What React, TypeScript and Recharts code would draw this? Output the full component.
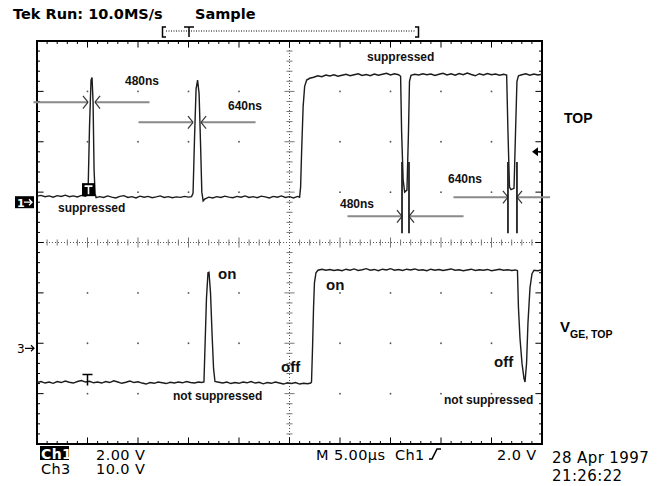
import React from 'react';
import { ComposedChart, Line, XAxis, YAxis, ReferenceLine, ReferenceDot, ReferenceArea } from 'recharts';

// scope settings as shown on screen
const timePerDiv = 5; // µs
const hDivs = 10;
const vDivs = 8;
const ch1VoltsPerDiv = 2;
const ch3VoltsPerDiv = 10;
const ch1GroundDiv = 0.8;
const ch3GroundDiv = -2.1;
const triggerLevel = 2.0; // V on Ch1
const triggerTime = 5; // µs

// Ch1 (TOP logic signal), [time µs, volts]
const ch1Trace: [number, number][] = [
  [0.0, 0.24], [0.4, 0.27], [0.8, 0.22], [1.2, 0.25], [1.6, 0.2], [2.0, 0.26], [2.4, 0.23], [2.8, 0.28],
  [3.2, 0.22], [3.6, 0.25], [4.0, 0.21], [4.4, 0.27], [4.8, 0.24],
  [5.05, 0.3], [5.2, 3.0], [5.35, 4.85], [5.45, 4.95], [5.55, 4.0], [5.65, 1.3], [5.75, 0.35], [5.85, 0.18],
  [6.2, 0.22], [6.6, 0.19], [7.0, 0.25], [7.4, 0.2], [7.8, 0.17], [8.2, 0.23], [8.6, 0.26], [9.0, 0.19],
  [9.4, 0.22], [9.8, 0.17], [10.2, 0.24], [10.6, 0.2], [11.0, 0.23], [11.4, 0.18], [11.8, 0.21], [12.2, 0.25],
  [12.6, 0.19], [13.0, 0.22], [13.4, 0.18], [13.8, 0.21], [14.2, 0.19], [14.6, 0.23], [15.0, 0.2], [15.3, 0.22],
  [15.45, 0.35], [15.6, 2.6], [15.75, 4.5], [15.9, 4.85], [16.05, 4.3], [16.2, 2.2], [16.32, 0.4], [16.45, 0.05], [16.6, 0.12],
  [17.0, 0.2], [17.4, 0.17], [17.8, 0.22], [18.2, 0.19], [18.6, 0.24], [19.0, 0.2], [19.4, 0.18], [19.8, 0.23],
  [20.2, 0.2], [20.6, 0.25], [21.0, 0.19], [21.4, 0.22], [21.8, 0.18], [22.2, 0.24], [22.6, 0.21], [23.0, 0.17],
  [23.4, 0.23], [23.8, 0.2], [24.2, 0.25], [24.6, 0.19], [25.0, 0.22], [25.4, 0.17], [25.8, 0.23],
  [26.0, 0.2], [26.1, 0.6], [26.2, 2.0], [26.35, 3.8], [26.5, 4.6], [26.7, 4.85], [27.0, 4.92], [27.4, 4.96],
  [27.8, 5.02], [28.2, 4.98], [28.6, 5.05], [29.0, 5.01], [29.4, 5.06], [29.8, 5.0], [30.2, 5.04], [30.6, 5.08],
  [31.0, 5.02], [31.4, 5.06], [31.8, 5.1], [32.2, 5.03], [32.6, 5.07], [33.0, 5.02], [33.4, 5.09], [33.8, 5.04],
  [34.2, 5.08], [34.6, 5.12], [35.0, 5.05], [35.4, 5.1], [35.8, 5.06],
  [36.0, 5.0], [36.1, 2.8], [36.25, 0.9], [36.4, 0.4], [36.63, 0.48], [36.78, 2.8], [36.88, 4.8], [37.03, 5.04],
  [37.4, 5.08], [37.8, 5.05], [38.2, 5.1], [38.6, 5.06], [39.0, 5.09], [39.4, 5.03], [39.8, 5.08], [40.2, 5.12],
  [40.6, 5.05], [41.0, 5.1], [41.4, 5.04], [41.8, 5.11], [42.2, 5.06], [42.6, 5.13], [43.0, 5.07], [43.4, 5.02],
  [43.8, 5.1], [44.2, 5.05], [44.6, 5.11], [45.0, 5.06], [45.4, 5.09], [45.8, 5.04], [46.2, 5.08],
  [46.5, 5.05], [46.63, 2.8], [46.78, 0.6], [46.93, 0.5], [47.23, 0.55], [47.38, 2.8], [47.52, 4.8], [47.67, 5.02],
  [48.0, 5.06], [48.4, 5.1], [48.8, 5.04], [49.2, 5.09], [49.6, 5.05], [50.0, 5.08],
];

// Ch3 (V_GE, TOP gate voltage), [time µs, volts]
const ch3Trace: [number, number][] = [
  [0.0, -6.8], [0.4, -6.6], [0.8, -6.9], [1.2, -6.7], [1.6, -6.95], [2.0, -6.6], [2.4, -6.8], [2.8, -6.5],
  [3.2, -6.75], [3.6, -6.9], [4.0, -6.6], [4.4, -6.4], [4.8, -6.7], [5.2, -6.55], [5.6, -6.85], [6.0, -6.7],
  [6.4, -6.9], [6.8, -6.6], [7.2, -6.8], [7.6, -6.45], [8.0, -6.7], [8.4, -6.95], [8.8, -6.75], [9.2, -6.5],
  [9.6, -6.8], [10.0, -6.65], [10.4, -6.9], [10.8, -7.1], [11.2, -6.8], [11.6, -6.95], [12.0, -6.7], [12.4, -6.85],
  [12.8, -7.0], [13.2, -6.75], [13.6, -6.9], [14.0, -6.7], [14.4, -6.85], [14.8, -6.6], [15.2, -6.8], [15.6, -6.9],
  [16.0, -6.7], [16.3, -6.8],
  [16.53, -6.7], [16.63, 0], [16.78, 10], [16.93, 15.0], [17.03, 15.1], [17.18, 11], [17.33, 3], [17.48, -4], [17.62, -6.6],
  [18.0, -6.75], [18.4, -6.9], [18.8, -6.7], [19.2, -7.0], [19.6, -6.8], [20.0, -6.95], [20.4, -6.7], [20.8, -6.85],
  [21.2, -6.6], [21.6, -6.9], [22.0, -6.75], [22.4, -7.05], [22.8, -6.8], [23.2, -6.95], [23.6, -6.7], [24.0, -6.9],
  [24.4, -7.1], [24.8, -6.85], [25.2, -7.0], [25.6, -6.8], [26.0, -7.1], [26.4, -6.95], [26.8, -7.05], [27.1, -6.9],
  [27.18, -6.7], [27.28, 0], [27.38, 8], [27.47, 13], [27.62, 15.0], [27.82, 15.5], [28.22, 15.7],
  [28.6, 15.5], [29.0, 15.65], [29.4, 15.45], [29.8, 15.6], [30.2, 15.4], [30.6, 15.7], [31.0, 15.5], [31.4, 15.75],
  [31.8, 15.45], [32.2, 15.6], [32.6, 15.8], [33.0, 15.5], [33.4, 15.65], [33.8, 15.4], [34.2, 15.7], [34.6, 15.55],
  [35.0, 15.8], [35.4, 15.5], [35.8, 15.65], [36.2, 15.45], [36.6, 15.7], [37.0, 15.55], [37.4, 15.75], [37.8, 15.5],
  [38.2, 15.6], [38.6, 15.4], [39.0, 15.7], [39.4, 15.5], [39.8, 15.65], [40.2, 15.45], [40.6, 15.6], [41.0, 15.75],
  [41.4, 15.5], [41.8, 15.6], [42.2, 15.4], [42.6, 15.55], [43.0, 15.7], [43.4, 15.45], [43.8, 15.6], [44.2, 15.5],
  [44.6, 15.65], [45.0, 15.4], [45.4, 15.55], [45.8, 15.7], [46.2, 15.5], [46.6, 15.6], [47.0, 15.45], [47.4, 15.55],
  [47.57, 15.4], [47.67, 8], [47.82, 2], [48.02, -3], [48.22, -6.0], [48.32, -6.7], [48.47, -3], [48.61, 5],
  [48.81, 12], [49.01, 14.8], [49.21, 15.5], [49.6, 15.4], [50.0, 15.6],
];

// pulse width cursors on Ch1: edges in µs, level in V
const widthMarks = [
  { label: '480ns', t1: 5.05, t2: 5.74, level: 3.97, drop: false },
  { label: '640ns', t1: 15.45, t2: 16.24, level: 3.17, drop: false },
  { label: '480ns', t1: 36.14, t2: 36.83, level: -0.56, drop: true },
  { label: '640ns', t1: 46.63, t2: 47.52, level: 0.2, drop: true },
];

const ch1Data = ch1Trace.map(([t, v]) => ({ t, v }));
const ch3Data = ch3Trace.map(([t, v]) => ({ t, v }));

const tMax = timePerDiv * hDivs;
const half = vDivs / 2;
const ch1Domain = [(-half - ch1GroundDiv) * ch1VoltsPerDiv, (half - ch1GroundDiv) * ch1VoltsPerDiv];
const ch3Domain = [(-half - ch3GroundDiv) * ch3VoltsPerDiv, (half - ch3GroundDiv) * ch3VoltsPerDiv];

const minorT = Array.from({ length: hDivs * 5 - 1 }, (_, i) => ((i + 1) * timePerDiv) / 5);
const minorD = Array.from({ length: vDivs * 5 - 1 }, (_, i) => Math.round((-half + (i + 1) * 0.2) * 10) / 10);
const isMajorT = (t: number) => Math.abs(t / timePerDiv - Math.round(t / timePerDiv)) < 1e-6;
const isMajorD = (d: number) => Math.abs(d - Math.round(d)) < 1e-6;

const W = 660;
const H = 486;
const margin = { top: 41, right: 118, bottom: 42, left: 37 };

const ann = "'Liberation Sans', Arial, sans-serif";
const tek = "'DejaVu Sans', sans-serif";

function graticule() {
  const els: React.ReactNode[] = [];
  const seg = (key: string, a: [number, number], b: [number, number], stroke = '#000', w = 1) => (
    <ReferenceLine
      key={key}
      yAxisId="div"
      segment={[{ x: a[0], y: a[1] }, { x: b[0], y: b[1] }]}
      stroke={stroke}
      strokeWidth={w}
      ifOverflow="visible"
    />
  );
  minorT.forEach((t) => {
    const len = isMajorT(t) ? 0.13 : 0.06;
    els.push(seg(`tt${t}`, [t, half], [t, half - len]));
    els.push(seg(`tb${t}`, [t, -half], [t, -half + len]));
    if (t !== tMax / 2) {
      const c = isMajorT(t) ? 0.1 : 0.06;
      els.push(seg(`tc${t}`, [t, -c], [t, c], '#777'));
    }
  });
  minorD.forEach((d) => {
    const len = isMajorD(d) ? 0.65 : 0.3;
    els.push(seg(`dl${d}`, [0, d], [len, d]));
    els.push(seg(`dr${d}`, [tMax, d], [tMax - len, d]));
    if (d !== 0) {
      const c = isMajorD(d) ? 0.5 : 0.3;
      els.push(seg(`dc${d}`, [tMax / 2 - c, d], [tMax / 2 + c, d], '#777'));
    }
  });
  for (let i = 1; i < hDivs; i++) {
    for (let j = -half + 1; j < half; j++) {
      if (i === hDivs / 2 || j === 0) continue;
      els.push(
        <ReferenceDot key={`g${i}_${j}`} yAxisId="div" x={i * timePerDiv} y={j} r={0.9} fill="#555" stroke="none" />
      );
    }
  }
  return els;
}

function cursors() {
  const els: React.ReactNode[] = [];
  const seg = (key: string, a: [number, number], b: [number, number], stroke: string, w: number) => (
    <ReferenceLine
      key={key}
      yAxisId="ch1"
      segment={[{ x: a[0], y: a[1] }, { x: b[0], y: b[1] }]}
      stroke={stroke}
      strokeWidth={w}
      ifOverflow="visible"
    />
  );
  widthMarks.forEach((m, i) => {
    const l = m.level;
    els.push(seg(`al${i}`, [m.t1 - 5.4, l], [m.t1, l], '#8a8a8a', 2));
    els.push(seg(`ar${i}`, [m.t2, l], [Math.min(m.t2 + 5.4, 50.8), l], '#8a8a8a', 2));
    els.push(seg(`c1a${i}`, [m.t1 - 0.5, l + 0.25], [m.t1, l], '#333', 1.2));
    els.push(seg(`c1b${i}`, [m.t1 - 0.5, l - 0.25], [m.t1, l], '#333', 1.2));
    els.push(seg(`c2a${i}`, [m.t2 + 0.5, l + 0.25], [m.t2, l], '#333', 1.2));
    els.push(seg(`c2b${i}`, [m.t2 + 0.5, l - 0.25], [m.t2, l], '#333', 1.2));
    if (m.drop) {
      els.push(seg(`v1${i}`, [m.t1, 1.6], [m.t1, -1.23], '#222', 1.8));
      els.push(seg(`v2${i}`, [m.t2, 1.6], [m.t2, -1.23], '#222', 1.8));
    }
  });
  return els;
}

const GroundMark1 = ({ cx, cy }: any) => (
  <g>
    <rect x={cx - 22} y={cy - 6} width={19} height={12} fill="#000" />
    <text x={cx - 20} y={cy + 5} fill="#fff" fontFamily={tek} fontWeight="bold" fontSize={11}>1</text>
    <path d={`M${cx - 13} ${cy} H${cx - 5} M${cx - 8} ${cy - 3} L${cx - 5} ${cy} L${cx - 8} ${cy + 3}`} stroke="#fff" strokeWidth={1.3} fill="none" />
  </g>
);

const GroundMark3 = ({ cx, cy }: any) => (
  <g>
    <text x={cx - 20} y={cy + 5} fill="#000" fontFamily={tek} fontSize={12}>3</text>
    <path d={`M${cx - 12} ${cy} H${cx - 3} M${cx - 6} ${cy - 3} L${cx - 3} ${cy} L${cx - 6} ${cy + 3}`} stroke="#000" strokeWidth={1.2} fill="none" />
  </g>
);

const TrigLevelMark = ({ cx, cy }: any) => (
  <g>
    <path d={`M${cx - 10} ${cy} L${cx - 4} ${cy - 4.5} L${cx - 4} ${cy + 4.5} Z`} fill="#000" />
    <path d={`M${cx - 4} ${cy} H${cx}`} stroke="#000" strokeWidth={1.5} />
  </g>
);

const TrigBox = ({ cx, cy }: any) => (
  <g>
    <rect x={cx - 6.5} y={cy - 13} width={13} height={13} fill="#000" />
    <path d={`M${cx - 4} ${cy - 10} H${cx + 4} M${cx} ${cy - 10} V${cy - 2}`} stroke="#fff" strokeWidth={1.6} />
  </g>
);

const TrigT = ({ cx, cy }: any) => (
  <path d={`M${cx - 5} ${cy - 8} H${cx + 5} M${cx} ${cy - 8} V${cy + 3}`} stroke="#000" strokeWidth={1.5} fill="none" />
);

export default function App() {
  return (
    <div style={{ position: 'absolute', left: 0, top: 0, width: W, height: H, background: '#fff' }}>
      <ComposedChart width={W} height={H} margin={margin}>
        <XAxis type="number" dataKey="t" domain={[0, tMax]} allowDataOverflow hide />
        <YAxis yAxisId="div" type="number" domain={[-half, half]} allowDataOverflow hide />
        <YAxis yAxisId="ch1" type="number" domain={ch1Domain} allowDataOverflow hide />
        <YAxis yAxisId="ch3" type="number" domain={ch3Domain} allowDataOverflow hide />

        <ReferenceLine yAxisId="div" x={tMax / 2} stroke="#555" strokeDasharray="1 2" />
        <ReferenceLine yAxisId="div" y={0} stroke="#555" strokeDasharray="1 2" />
        {graticule()}
        <ReferenceArea yAxisId="div" x1={0} x2={tMax} y1={-half} y2={half} fill="none" stroke="#000" strokeWidth={2} />

        {cursors()}

        <Line data={ch1Data} yAxisId="ch1" dataKey="v" type="linear" stroke="#1c1c1c" strokeWidth={1.4} dot={false} isAnimationActive={false} />
        <Line data={ch3Data} yAxisId="ch3" dataKey="v" type="linear" stroke="#1c1c1c" strokeWidth={1.4} dot={false} isAnimationActive={false} />

        <ReferenceDot yAxisId="ch1" x={0} y={0} shape={<GroundMark1 />} />
        <ReferenceDot yAxisId="ch3" x={0} y={0} shape={<GroundMark3 />} />
        <ReferenceDot yAxisId="ch1" x={tMax} y={triggerLevel} shape={<TrigLevelMark />} />
        <ReferenceDot yAxisId="ch1" x={triggerTime + 0.1} y={0.24} shape={<TrigBox />} />
        <ReferenceDot yAxisId="ch3" x={triggerTime} y={-6.8} shape={<TrigT />} />
      </ComposedChart>

      <svg width={W} height={H} style={{ position: 'absolute', left: 0, top: 0, pointerEvents: 'none' }}>
        <g fontFamily={tek} fontWeight="bold" fontSize={14.5} fill="#000">
          <text x={13} y={18.5}>Tek Run: 10.0MS/s</text>
          <text x={195} y={18.5}>Sample</text>
        </g>
        <g stroke="#000" fill="none">
          <path d="M166 27 H162.5 V37 H166" strokeWidth={1.5} />
          <path d="M166 31 H415" strokeWidth={1} strokeDasharray="1 1.5" />
          <path d="M184 27 H194 M189 27 V37" strokeWidth={1.5} />
          <path d="M415 27 H418.5 V37 H415" strokeWidth={1.5} />
        </g>

        <g fontFamily={ann} fontWeight="bold" fontSize={12} fill="#111">
          <text x={125} y={85}>480ns</text>
          <text x={228} y={110}>640ns</text>
          <text x={58} y={212}>suppressed</text>
          <text x={367} y={61}>suppressed</text>
          <text x={340} y={208}>480ns</text>
          <text x={448} y={183}>640ns</text>
          <text x={173} y={399.5}>not suppressed</text>
          <text x={444} y={404}>not suppressed</text>
        </g>
        <g fontFamily={ann} fontWeight="bold" fontSize={15} fill="#111">
          <text x={218} y={279}>on</text>
          <text x={326} y={290}>on</text>
          <text x={281} y={372}>off</text>
          <text x={494} y={367}>off</text>
        </g>
        <g fontFamily={ann} fontWeight="bold" fill="#000">
          <text x={564} y={123} fontSize={14}>TOP</text>
          <text x={560} y={332} fontSize={15}>
            V<tspan fontSize={10.5} dy={6}>GE, TOP</tspan>
          </text>
        </g>

        <g fontFamily={tek} fontSize={14.5} fill="#000" letterSpacing={0.4}>
          <rect x={40} y={446} width={29} height={14} fill="#000" />
          <text x={41} y={458.5} fill="#fff" fontWeight="bold" fontSize={14}>Ch1</text>
          <text x={96} y={459.5}>2.00 V</text>
          <text x={41} y={474}>Ch3</text>
          <text x={96} y={474}>10.0 V</text>
          <text x={316} y={459.5}>M 5.00µs</text>
          <text x={395} y={459.5}>Ch1</text>
          <text x={497} y={459.5}>2.0 V</text>
          <text x={552} y={463} fontSize={15}>28 Apr 1997</text>
          <text x={552} y={481} fontSize={15}>21:26:22</text>
        </g>
        <path d="M429 459 H432 L437 449 H441" stroke="#000" strokeWidth={1.6} fill="none" />
      </svg>
    </div>
  );
}
